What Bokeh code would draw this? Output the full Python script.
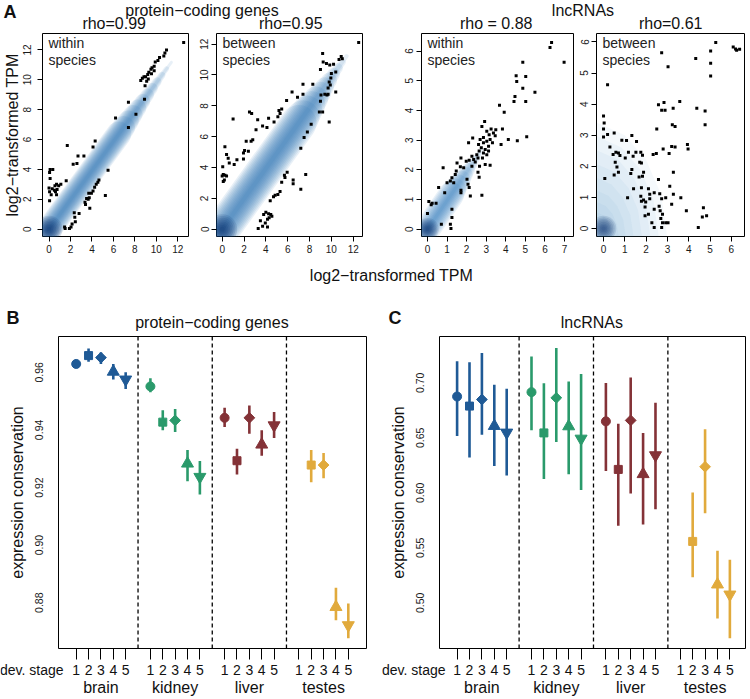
import math
from bokeh.plotting import figure
from bokeh.models import Range1d, FixedTicker, LinearAxis, Label, Span, NumeralTickFormatter
from bokeh.layouts import row, column
from bokeh.core.properties import value
from bokeh.embed import file_html
from bokeh.resources import INLINE

FONT = "Liberation Sans"
SX = 748 / 750
SY = 696 / 699
MAIN = "16px"

# ---------------- data: panel A (scatter outliers) ----------------
a1_pts = [(12.55, 12.5), (10.95, 12.0), (10.8, 11.8), (10.7, 11.6), (10.3, 11.5), (10.15, 11.3),
          (9.9, 11.2), (9.8, 10.9), (9.6, 10.8), (9.5, 10.7), (9.3, 10.5), (9.2, 10.35), (9.0, 10.2),
          (8.85, 10.2), (8.7, 10.1), (8.55, 9.95), (9.25, 10.05), (8.95, 9.6), (9.55, 10.4), (9.8, 10.6),
          (9.1, 9.9), (8.9, 8.7), (8.1, 7.7), (7.4, 8.5), (7.4, 6.8), (6.2, 7.45), (4.3, 5.9), (4.1, 5.5),
          (1.7, 5.6), (3.25, 4.9), (2.7, 4.9), (2.6, 4.4), (2.25, 4.35), (5.5, 3.95), (0.1, 4.0),
          (0.35, 4.0), (0.05, 3.8), (0.1, 3.4), (1.6, 3.25), (1.1, 3.0), (0.7, 3.0), (0.55, 2.9),
          (0.9, 2.9), (0.0, 2.75), (0.3, 2.7), (0.5, 2.6), (0.75, 2.65), (0.05, 2.5), (0.6, 2.5),
          (0.2, 2.3), (0.7, 2.3), (0.05, 1.9), (4.65, 3.3), (4.55, 3.15), (4.4, 3.0), (4.25, 2.8),
          (4.1, 2.55), (3.95, 2.4), (3.7, 2.4), (3.75, 2.1), (3.5, 2.05), (3.65, 2.0), (3.35, 1.8),
          (3.4, 1.65), (3.8, 1.4), (5.25, 2.25), (2.35, 1.1), (2.8, 1.05), (2.4, 0.8), (2.45, 0.5),
          (2.15, 0.35), (2.05, 0.15), (1.9, 0.05), (1.45, 0.15), (1.5, 0.05)]

a2_pts = [(12.5, 12.1), (10.9, 11.2), (11.0, 11.05), (10.7, 11.0), (9.2, 11.4), (9.25, 10.85),
          (9.55, 10.75), (9.85, 10.65), (10.2, 10.7), (9.0, 10.35), (10.4, 10.2), (10.0, 10.1),
          (9.95, 9.8), (9.8, 9.55), (9.9, 9.35), (9.7, 9.15), (9.6, 8.7), (9.7, 8.75), (10.4, 8.9),
          (9.4, 8.75), (9.05, 8.7), (9.0, 8.3), (8.9, 7.6), (9.2, 7.6), (9.8, 6.95), (8.3, 9.4),
          (7.4, 9.4), (7.4, 8.75), (6.9, 8.55), (6.4, 8.9), (5.9, 8.35), (5.45, 7.8), (5.2, 7.7),
          (5.3, 7.5), (5.1, 7.3), (4.75, 6.95), (4.25, 7.2), (4.1, 6.6), (3.7, 6.7), (3.25, 7.1),
          (3.1, 6.45), (2.7, 7.5), (2.5, 7.6), (1.0, 7.15), (2.8, 5.8), (2.65, 5.7), (2.2, 5.7),
          (2.4, 5.05), (2.05, 5.1), (1.95, 4.95), (1.95, 4.55), (1.35, 4.5), (1.1, 4.2), (0.25, 5.35),
          (0.4, 4.85), (0.55, 4.6), (0.65, 4.3), (0.05, 4.05), (0.1, 3.55), (0.0, 3.45), (0.25, 3.5),
          (0.4, 3.45), (0.2, 3.2), (0.1, 3.1), (8.15, 6.8), (7.8, 6.3), (7.5, 5.95), (7.2, 5.25),
          (5.95, 3.7), (5.7, 3.5), (5.75, 3.35), (7.65, 3.55), (6.5, 3.2), (6.5, 2.95), (5.45, 3.05),
          (7.2, 2.6), (5.3, 2.45), (5.1, 2.25), (4.85, 2.2), (4.7, 2.1), (4.4, 1.85), (4.0, 1.1),
          (3.8, 0.95), (4.25, 1.0), (4.45, 0.95), (4.55, 0.85), (4.3, 0.75), (4.15, 0.65), (3.5, 0.55),
          (3.95, 0.4), (3.7, 0.2), (4.15, 0.15), (3.3, 0.05)]

a3_pts = [(6.34, 6.29), (6.26, 6.12), (6.98, 5.62), (4.87, 5.62), (4.53, 5.17), (5.02, 5.14),
          (4.56, 4.97), (4.87, 4.75), (5.49, 4.61), (4.47, 4.47), (4.42, 4.30), (5.02, 4.30),
          (3.68, 4.17), (3.92, 3.94), (2.92, 3.63), (2.78, 3.46), (3.25, 3.37), (3.49, 3.35),
          (3.83, 3.37), (3.03, 3.30), (3.37, 3.24), (3.15, 3.18), (3.46, 3.15), (5.07, 3.11),
          (4.13, 3.02), (4.59, 2.98), (2.31, 3.07), (2.86, 3.09), (2.69, 3.02), (3.03, 2.96),
          (3.2, 3.02), (3.32, 2.91), (3.76, 2.85), (2.1, 2.91), (2.61, 2.85), (2.86, 2.91),
          (3.12, 2.79), (2.75, 2.74), (2.95, 2.68), (2.64, 2.63), (3.12, 2.63), (2.86, 2.57),
          (3.03, 2.51), (2.52, 2.51), (2.27, 2.46), (2.58, 2.40), (2.81, 2.40), (2.36, 2.35),
          (1.71, 2.40), (2.13, 2.32), (3.2, 2.15), (2.95, 2.18), (2.66, 2.12), (2.44, 2.26),
          (1.98, 2.29), (1.51, 2.23), (2.27, 2.12), (1.68, 2.10), (1.47, 1.96), (1.85, 2.07),
          (0.80, 2.07), (2.58, 1.92), (2.64, 1.75), (2.02, 1.68), (2.07, 1.51), (2.13, 1.40),
          (2.19, 1.12), (2.78, 1.14), (1.71, 1.31), (1.71, 1.23), (1.42, 1.84), (1.25, 1.73),
          (1.17, 1.62), (1.0, 1.56), (1.34, 1.56), (0.57, 1.40), (0.88, 1.23), (0.07, 0.93),
          (0.24, 0.87), (0.19, 0.82), (0.44, 0.87), (0.0, 0.53), (1.25, 0.67), (1.25, 0.39),
          (0.71, 0.17), (1.17, 0.17), (1.2, 0.02)]

a4_pts = [(5.27, 5.98), (6.09, 5.84), (6.2, 5.77), (6.39, 5.76), (6.25, 5.73), (5.03, 5.71),
          (2.73, 5.65), (4.33, 5.47), (5.03, 5.31), (3.03, 5.2), (5.03, 4.9), (0.19, 4.62),
          (3.58, 4.08), (2.58, 3.98), (2.84, 4.05), (3.27, 3.87), (2.73, 3.8), (2.89, 3.8),
          (4.38, 3.87), (4.77, 3.78), (0.0, 3.62), (0.03, 3.39), (0.0, 3.2), (0.0, 2.94),
          (0.19, 3.02), (3.23, 3.34), (3.36, 3.28), (4.77, 3.34), (2.5, 3.2), (0.5, 3.07),
          (0.86, 2.84), (1.08, 2.83), (1.33, 2.99), (1.55, 2.8), (3.2, 2.64), (3.36, 2.62),
          (3.94, 2.7), (3.97, 2.56), (0.3, 2.62), (0.58, 2.45), (0.45, 2.38), (0.7, 2.43),
          (0.77, 2.35), (1.17, 2.45), (1.39, 2.32), (1.52, 2.45), (1.75, 2.45), (1.83, 2.36),
          (2.33, 2.38), (2.48, 2.41), (2.8, 2.56), (3.08, 2.41), (1.02, 2.27), (0.55, 2.13),
          (1.7, 2.13), (1.78, 2.11), (0.63, 1.98), (0.7, 1.81), (0.5, 1.72), (1.33, 1.9),
          (1.28, 1.77), (1.88, 1.81), (1.83, 1.68), (1.67, 1.66), (2.58, 1.58), (3.28, 1.81),
          (0.06, 1.61), (1.41, 1.28), (1.78, 1.31), (2.11, 1.28), (2.38, 1.15), (3.11, 1.36),
          (1.75, 1.04), (2.64, 1.12), (3.28, 1.1), (3.63, 0.99), (1.13, 0.99), (1.88, 0.92),
          (1.78, 0.88), (1.98, 0.85), (2.17, 1.1), (2.17, 0.96), (2.73, 0.96), (2.92, 0.99),
          (3.2, 0.78), (1.95, 0.69), (2.61, 0.72), (2.66, 0.57), (2.38, 0.62), (3.89, 0.57),
          (1.95, 0.41), (2.11, 0.46), (2.69, 0.32), (2.77, 0.19), (2.27, 0.19), (2.38, 0.03),
          (2.73, 0.03), (2.92, 0.19), (3.03, 0.19), (4.64, 0.37), (4.84, 0.41), (4.45, 0.03),
          (4.69, 0.67), (2.77, 0.46)]

# smoothed-density band: direction of ridge, reach (widest layer, narrowest layer), width px
a1_band_dir = (1.0, 0.98)
a1_band_reach = (6.5, 11.4)
a1_band_px = (25, 3)
a2_band_dir = (1.0, 0.985)
a2_band_reach = (7.0, 11.4)
a2_band_px = (36, 4)
a3_band_dir = (1.0, 0.96)
a3_band_reach = (1.2, 2.8)
a3_band_px = (26, 3)
a4_cloud_x = [-0.3, 3.0, 2.7, 2.0, 1.0, -0.3]
a4_cloud_y = [-0.3, -0.3, 1.1, 2.2, 3.0, 3.4]
a4_cloud_scales = [1.0, 0.88, 0.76, 0.64, 0.52, 0.41, 0.31, 0.22]

panel_a_titles = ["rho=0.99", "rho=0.95", "rho = 0.88", "rho=0.61"]
panel_a_insets = ["within\nspecies", "between\nspecies", "within\nspecies", "between\nspecies"]
a1_ticks = [0, 2, 4, 6, 8, 10, 12]
a3_xticks = [0, 1, 2, 3, 4, 5, 6, 7]
a3_yticks = [0, 1, 2, 3, 4, 5, 6]
a4_ticks = [0, 1, 2, 3, 4, 5, 6]

# ---------------- data: panels B and C ----------------
tissues = ["brain", "kidney", "liver", "testes"]
tissue_colors = ["#1F5A96", "#2A9A6B", "#843237", "#E1AA3C"]
stages = [1, 2, 3, 4, 5]

pc_mean = [0.9629, 0.9658, 0.9651, 0.9602, 0.9575,
           0.9551, 0.9427, 0.9433, 0.9283, 0.9237,
           0.9442, 0.9293, 0.9442, 0.9349, 0.9416,
           None, 0.9278, 0.9278, 0.8785, 0.8722]
pc_low = [0.9617, 0.9637, 0.9629, 0.9575, 0.9542,
          0.9531, 0.9399, 0.9393, 0.9222, 0.9176,
          0.9410, 0.9245, 0.9387, 0.9310, 0.9372,
          None, 0.9218, 0.9232, 0.8739, 0.8677]
pc_high = [0.9640, 0.9683, 0.9669, 0.9629, 0.9600,
           0.9579, 0.9468, 0.9473, 0.9330, 0.9292,
           0.9477, 0.9335, 0.9485, 0.9399, 0.9462,
           None, 0.9330, 0.9320, 0.8852, 0.8797]
lnc_mean = [0.6876, 0.6789, 0.6849, 0.6608, 0.6548,
            0.6916, 0.6545, 0.6864, 0.6605, 0.6493,
            0.6650, 0.6213, 0.6659, 0.6170, 0.6342,
            None, 0.5558, 0.6237, 0.5166, 0.5075]
lnc_low = [0.6517, 0.6321, 0.6529, 0.6243, 0.6158,
           0.6569, 0.6125, 0.6463, 0.6170, 0.6026,
           0.6198, 0.5700, 0.5995, 0.5712, 0.5851,
           None, 0.5232, 0.5814, 0.4858, 0.4677]
lnc_high = [0.7196, 0.7187, 0.7271, 0.6982, 0.6946,
            0.7241, 0.6997, 0.7317, 0.7012, 0.7081,
            0.7000, 0.6629, 0.7048, 0.6545, 0.6819,
            None, 0.6002, 0.6578, 0.5474, 0.5392]
pc_yticks = [0.88, 0.90, 0.92, 0.94, 0.96]
lnc_yticks = [0.50, 0.55, 0.60, 0.65, 0.70]

# ---------------- styling ----------------
STAGE_MARKERS = [("circle", 9, 0), ("square", 8, 0), ("square", 7.6, math.pi / 4),
                 ("triangle", 12, 0), ("inverted_triangle", 12, 0)]


def sx(v):
    return round(v * SX)


def sy(v):
    return round(v * SY)


def make_fig(canvas, frame, xr, yr, outline=True):
    cx0, cx1, cy0, cy1 = canvas
    fx0, fx1, fy0, fy1 = frame
    p = figure(width=sx(cx1) - sx(cx0), height=sy(cy1) - sy(cy0),
               x_range=Range1d(*xr), y_range=Range1d(*yr),
               x_axis_type=None, y_axis_type=None,
               output_backend="svg", toolbar_location=None, tools="",
               min_border_left=sx(fx0) - sx(cx0), min_border_right=sx(cx1) - sx(fx1),
               min_border_top=sy(fy0) - sy(cy0), min_border_bottom=sy(cy1) - sy(fy1))
    p.outline_line_color = "black" if outline else None
    p.outline_line_width = 1
    p.background_fill_color = "white"
    p.border_fill_color = "white"
    return p


def at(frame, xr, yr, dx, dy):
    fx0, fx1, fy0, fy1 = frame
    x = xr[0] + dx / (fx1 - fx0) * (xr[1] - xr[0])
    y = yr[1] - dy / (fy1 - fy0) * (yr[1] - yr[0])
    return x, y


def style_axis(a, size="10px"):
    a.axis_line_color = None
    a.major_tick_line_color = "black"
    a.major_tick_in = 0
    a.major_tick_out = 5
    a.minor_tick_line_color = None
    a.major_label_text_font = FONT
    a.major_label_text_font_size = size
    a.major_label_text_color = "#1a1a1a"


def draw_band(p, direction, reach, px, n=12, alpha=0.11, color="#2A75B8"):
    xs, ys, ws = [], [], []
    for j in range(n):
        f = j / (n - 1)
        t = reach[0] + (reach[1] - reach[0]) * f
        xs.append([0.0, t * direction[0]])
        ys.append([0.0, t * direction[1]])
        ws.append(px[0] + (px[1] - px[0]) * f)
    p.multi_line(xs=xs, ys=ys, line_width=ws, line_color=color, line_alpha=alpha, line_cap="round")


def draw_blob(p, scale=1.0, n=8):
    sizes = [(30 - 25 * j / (n - 1)) * scale for j in range(n)]
    p.scatter(x=[0] * n, y=[0] * n, size=sizes, color="#0A2F6E", alpha=0.13, line_color=None)


# ---------------- top row (A) ----------------
TOP_Y = (33, 262)
FR_Y = (33.3, 237.3)
specs = [
    ((0, 194), (40, 188.3), (-0.61, 13.0), (-0.49, 13.1), a1_ticks, a1_ticks, a1_pts),
    ((194, 370), (217, 363.3), (-0.52, 12.85), (-0.47, 12.69), a1_ticks, a1_ticks, a2_pts),
    ((370, 578), (421.7, 574.3), (-0.305, 7.46), (-0.246, 6.59), a3_xticks, a3_yticks, a3_pts),
    ((578, 750), (598, 746), (-0.33, 6.62), (-0.256, 6.27), a4_ticks, a4_ticks, a4_pts),
]
top_figs = []
for i, (cx, fx, xr, yr, xt, yt, pts) in enumerate(specs):
    canvas = (cx[0], cx[1], TOP_Y[0], TOP_Y[1])
    frame = (fx[0], fx[1], FR_Y[0], FR_Y[1])
    p = make_fig(canvas, frame, xr, yr)
    if i == 0:
        draw_band(p, a1_band_dir, a1_band_reach, a1_band_px)
        draw_blob(p, 0.9)
    elif i == 1:
        draw_band(p, a2_band_dir, a2_band_reach, a2_band_px)
        draw_blob(p, 1.0)
    elif i == 2:
        draw_band(p, a3_band_dir, a3_band_reach, a3_band_px, n=10, alpha=0.1)
        draw_blob(p, 0.75)
    else:
        ox, oy = a4_cloud_x[0], a4_cloud_y[0]
        for s in a4_cloud_scales:
            p.patch([ox + (v - ox) * s for v in a4_cloud_x], [oy + (v - oy) * s for v in a4_cloud_y],
                    fill_color="#4A8FCB", fill_alpha=0.055, line_color=None)
        draw_blob(p, 0.85)
    p.scatter(x=[q[0] for q in pts], y=[q[1] for q in pts], marker="square", size=3,
              color="black", line_color=None)
    lx, ly = at(frame, xr, yr, 6, 2)
    p.add_layout(Label(x=lx, y=ly, text=panel_a_insets[i], text_font=FONT, text_font_size="14px",
                       text_color="#222222", text_align="left", text_baseline="top",
                       text_line_height=1.05))
    xa = LinearAxis(ticker=FixedTicker(ticks=xt))
    ya = LinearAxis(ticker=FixedTicker(ticks=yt))
    style_axis(xa)
    style_axis(ya)
    xa.major_label_standoff = 3
    ya.major_label_orientation = "vertical"
    ya.major_label_standoff = 6 if i == 0 else 3
    if i == 0:
        ya.axis_label = "log2\u2212transformed TPM"
        ya.axis_label_text_font = FONT
        ya.axis_label_text_font_size = MAIN
        ya.axis_label_text_font_style = "normal"
        ya.axis_label_text_color = "#111111"
        ya.axis_label_standoff = 0
    p.add_layout(xa, "below")
    p.add_layout(ya, "left")
    top_figs.append(p)


def header(y0, y1, items):
    h = make_fig((0, 750, y0, y1), (0, 750, y0, y1), (0, 750), (y1, y0), outline=False)
    h.min_border_left = h.min_border_right = h.min_border_top = h.min_border_bottom = 0
    for (x, y, txt, size, bold, align) in items:
        h.add_layout(Label(x=x, y=y, text=txt, text_font=FONT, text_font_size=size,
                           text_font_style="bold" if bold else "normal", text_color="#111111",
                           text_align=align, text_baseline="middle"))
    return h


head_a = header(0, 33, [
    (3, 11, "A", "18px", True, "left"),
    (202, 9.5, "protein\u2212coding genes", MAIN, False, "center"),
    (584, 9.5, "lncRNAs", MAIN, False, "center"),
    (114, 23, panel_a_titles[0], MAIN, False, "center"),
    (291, 23, panel_a_titles[1], MAIN, False, "center"),
    (497, 23, panel_a_titles[2], MAIN, False, "center"),
    (672, 23, panel_a_titles[3], MAIN, False, "center"),
])
foot_a = header(262, 300, [(392, 276, "log2\u2212transformed TPM", MAIN, False, "center")])
head_bc = header(300, 335, [
    (6, 318, "B", "18px", True, "left"),
    (212, 323, "protein\u2212coding genes", MAIN, False, "center"),
    (389, 318, "C", "18px", True, "left"),
    (593, 323, "lncRNAs", MAIN, False, "center"),
])

# ---------------- bottom row (B, C) ----------------
BOT_Y = (335, 663)
STRIP_Y = (663, 699)
ns = len(stages)
positions = [ti * (ns + 1) + st for ti in range(len(tissues)) for st in stages]
stage_labels = [str(stages[j % ns]) for j in range(len(positions))]
centers = [ti * (ns + 1) + (ns + 1) / 2 for ti in range(len(tissues))]


def conservation_panel(cx, fx, xr, yr, mean, low, high, yticks):
    canvas = (cx[0], cx[1], BOT_Y[0], BOT_Y[1])
    frame = (fx[0], fx[1], 337.3, 651)
    p = make_fig(canvas, frame, xr, yr)
    for ti in range(1, len(tissues)):
        p.add_layout(Span(location=ti * (ns + 1), dimension="height", line_color="black",
                          line_dash="4 3", line_width=1.3))
    for ti, col in enumerate(tissue_colors):
        xs, lo, hi = [], [], []
        for si, st in enumerate(stages):
            k = ti * ns + si
            if mean[k] is None:
                continue
            xs.append(ti * (ns + 1) + st)
            lo.append(low[k])
            hi.append(high[k])
        p.segment(x0=xs, y0=lo, x1=xs, y1=hi, line_color=col, line_width=2.6)
    for si, st in enumerate(stages):
        mk, size, ang = STAGE_MARKERS[si]
        xs, ys, cs = [], [], []
        for ti, col in enumerate(tissue_colors):
            k = ti * ns + si
            if mean[k] is None:
                continue
            xs.append(ti * (ns + 1) + st)
            ys.append(mean[k])
            cs.append(col)
        p.scatter(x=xs, y=ys, marker=mk, size=size, angle=ang, fill_color=cs, line_color=cs)
    xa = LinearAxis(ticker=FixedTicker(ticks=positions),
                    major_label_overrides={pos: "" for pos in positions})
    style_axis(xa, "1px")
    xa.major_tick_out = 11
    xa.major_label_standoff = 0
    ya = LinearAxis(ticker=FixedTicker(ticks=yticks), formatter=NumeralTickFormatter(format="0.00"))
    style_axis(ya, "10.5px")
    ya.major_tick_line_color = None
    ya.major_tick_out = 0
    ya.major_label_orientation = "vertical"
    ya.major_label_standoff = 15
    ya.axis_label = "expression conservation"
    ya.axis_label_text_font = FONT
    ya.axis_label_text_font_size = MAIN
    ya.axis_label_text_font_style = "normal"
    ya.axis_label_text_color = "#111111"
    ya.axis_label_standoff = 7
    p.add_layout(xa, "below")
    p.add_layout(ya, "left")
    return p


def label_strip(cx, fx, xr, dev_right):
    # strip under a panel, x scale aligned with the panel frame above it
    left_px = sx(fx[0]) - sx(cx[0])
    right_px = sx(fx[1]) - sx(cx[0])
    width_px = sx(cx[1]) - sx(cx[0])
    dpp = (xr[1] - xr[0]) / (right_px - left_px)
    sxr = (xr[0] - left_px * dpp, xr[1] + (width_px - right_px) * dpp)
    s = make_fig((cx[0], cx[1], STRIP_Y[0], STRIP_Y[1]), (cx[0], cx[1], STRIP_Y[0], STRIP_Y[1]),
                 sxr, (STRIP_Y[1], STRIP_Y[0]), outline=False)
    s.min_border_left = s.min_border_right = s.min_border_top = s.min_border_bottom = 0
    s.text(x=positions, y=[672] * len(positions), text=stage_labels, text_font=value(FONT),
           text_font_size="14px", text_color="#111111", text_align="center", text_baseline="middle")
    s.text(x=centers, y=[690] * len(centers), text=tissues, text_font=value(FONT),
           text_font_size=MAIN, text_color="#111111", text_align="center", text_baseline="middle")
    dx = sxr[0] + (sx(dev_right) - sx(cx[0])) * dpp
    s.text(x=[dx], y=[672], text=["dev. stage"], text_font=value(FONT), text_font_size="14px",
           text_color="#111111", text_align="right", text_baseline="middle")
    return s


b_cx, b_fx, b_xr = (0, 378), (58.3, 367.3), (-0.43, 24.47)
c_cx, c_fx, c_xr = (378, 750), (440, 746.7), (-0.42, 24.26)
fig_b = conservation_panel(b_cx, b_fx, b_xr, (0.86411, 0.97243), pc_mean, pc_low, pc_high, pc_yticks)
fig_c = conservation_panel(c_cx, c_fx, c_xr, (0.4584, 0.7422), lnc_mean, lnc_low, lnc_high, lnc_yticks)
strip_b = label_strip(b_cx, b_fx, b_xr, 63)
strip_c = label_strip(c_cx, c_fx, c_xr, 446)

layout = column(head_a, row(*top_figs), foot_a, head_bc, row(fig_b, fig_c), row(strip_b, strip_c))
open("out.html", "w").write(file_html(layout, INLINE))
